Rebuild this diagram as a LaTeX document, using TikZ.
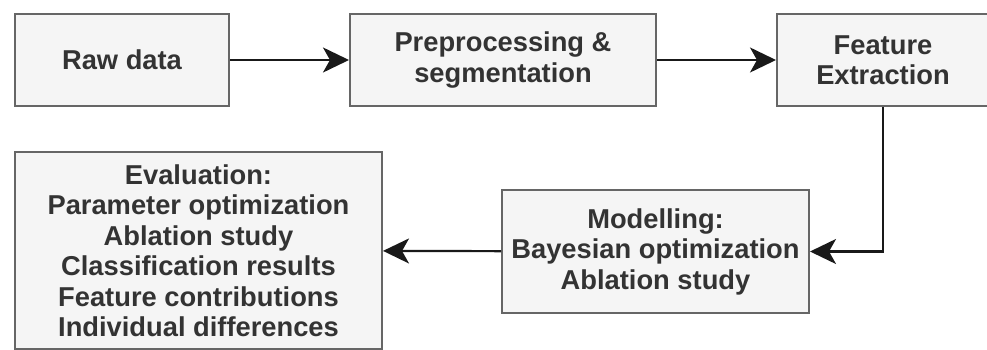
\documentclass[tikz,border=0pt]{standalone}
\usepackage{fontspec}
\setmainfont{Liberation Sans}
\usetikzlibrary{arrows.meta}
\definecolor{boxfill}{HTML}{F5F5F5}
\definecolor{boxline}{HTML}{666666}
\definecolor{txt}{HTML}{333333}
\tikzset{
  box/.style={draw=boxline, fill=boxfill, line width=2pt, inner sep=0pt,
    align=center, text=txt,
    font=\fontsize{27.3pt}{30.5pt}\selectfont\bfseries},
  conn/.style={draw=black!90, line width=2.2pt,
    -{Stealth[length=26pt,width=25pt,inset=7pt]}},
}
\begin{document}
\begin{tikzpicture}[x=1pt,y=-1pt]
\useasboundingbox (0,0) rectangle (987,350);
\node[box, minimum width=214pt, minimum height=92pt] (raw) at (122,60) {Raw data};
\node[box, minimum width=306pt, minimum height=92pt] (prep) at (503,60) {Preprocessing \&\\segmentation};
\node[box, minimum width=212pt, minimum height=92pt] (feat) at (883,60) {Feature\\Extraction};
\node[box, minimum width=307pt, minimum height=123pt] (model) at (655.5,251.5) {Modelling:\\Bayesian optimization\\Ablation study};
\node[box, minimum width=367pt, minimum height=197pt] (eval) at (198.5,250.5) {Evaluation:\\Parameter optimization\\Ablation study\\Classification results\\Feature contributions\\Individual differences};
\draw[conn] (raw) -- (prep);
\draw[conn] (prep) -- (feat);
\draw[conn] (feat.south) |- (model.east);
\draw[conn] (model) -- (eval);
\end{tikzpicture}
\end{document}
